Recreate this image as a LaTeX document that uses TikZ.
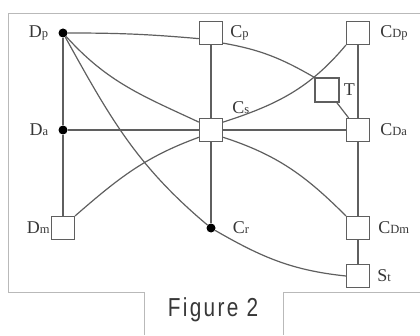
\documentclass[tikz,border=0pt]{standalone}
\usepackage{fontspec}
\setmainfont{Liberation Serif}
\newfontfamily\capfont[FakeStretch=0.8,LetterSpace=9]{Liberation Sans}
\usetikzlibrary{positioning}
\definecolor{netgray}{RGB}{95,95,95}
\definecolor{framegray}{RGB}{185,185,185}
\definecolor{textgray}{RGB}{55,55,55}
\newcommand{\lsub}[1]{{\fontsize{12.5}{12.5}\selectfont #1}}

\begin{document}
\begin{tikzpicture}[x=1pt, y=1pt, every node/.style={font=\fontsize{18}{18}\selectfont}]
  \tikzset{
    sqnode/.style={draw=netgray, fill=white, line width=1.2pt, minimum size=23pt, inner sep=0pt},
    dotnode/.style={circle, fill=black, minimum size=9pt, inner sep=0pt},
    lbl/.style={text=textgray, inner sep=1pt},
    link/.style={draw=netgray, line width=1.2pt}
  }
  \useasboundingbox (0,0) rectangle (420,335);

  % frame with the caption cut out
  \draw[framegray, line width=1pt] (144,0) -- (144,43) -- (8,43) -- (8,321) -- (421,321);
  \draw[framegray, line width=1pt] (421,43) -- (283,43) -- (283,0);
  \node[text=textgray, font=\capfont\fontsize{26}{26}\selectfont] (caption) at (213,25) {Figure 2};

  % left column
  \node[dotnode] (dp) at (63,302) {};
  \node[dotnode] (da) at (63,205) {};
  \node[sqnode]  (dm) at (63,107) {};

  % middle column
  \node[sqnode]  (cp) at (211,302) {};
  \node[sqnode]  (cs) at (211,205) {};
  \node[dotnode] (cr) at (211,107) {};

  % right column
  \node[sqnode]  (cdp) at (358,302) {};
  \node[sqnode]  (cda) at (358,205) {};
  \node[sqnode]  (cdm) at (358,107) {};
  \node[sqnode]  (st)  at (358,59)  {};
  \node[sqnode, minimum size=24pt] (t) at (327,245) {};

  % labels
  \node[lbl, left=9pt of dp] (dplab) {D\lsub{p}};
  \node[lbl, left=9pt of da] (dalab) {D\lsub{a}};
  \node[lbl, left=0pt of dm]  (dmlab) {D\lsub{m}};
  \node[lbl, right=6pt of cp] (cplab) {C\lsub{p}};
  \node[lbl, above right=3pt and 8pt of cs] (cslab) {C\lsub{s}};
  \node[lbl, right=16pt of cr] (crlab) {C\lsub{r}};
  \node[lbl, right=9pt of cdp] (cdplab) {C\lsub{Dp}};
  \node[lbl, right=9pt of cda] (cdalab) {C\lsub{Da}};
  \node[lbl, right=7pt of cdm] (cdmlab) {C\lsub{Dm}};
  \node[lbl, right=6pt of st]  (stlab)  {S\lsub{t}};
  \node[lbl, right=3pt of t]   (tlab)   {T};

  % straight links
  \draw[link] (dp) -- (da) -- (dm);
  \draw[link] (cp) -- (cs) -- (cr);
  \draw[link] (cdp) -- (cda) -- (cdm) -- (st);
  \draw[link] (da) -- (cs) -- (cda);
  \draw[link] (t) -- (cda);

  % curved links
  \draw[link] (dp) to[out=0, in=175] (cp.205);
  \draw[link] (dp) to[out=-48, in=155] (cs.147);
  \draw[link] (dp) to[out=-61, in=140] (cr);
  \draw[link] (dm.45) to[out=41, in=200] (cs.211);
  \draw[link] (cs.33) to[out=18, in=230] (cdp.225);
  \draw[link] (cs.-31) to[out=-18, in=135] (cdm.135);
  \draw[link] (cp.-40) to[out=-10, in=150] (t.135);
  \draw[link] (cr) to[out=-30, in=174] (st.west);
\end{tikzpicture}
\end{document}
